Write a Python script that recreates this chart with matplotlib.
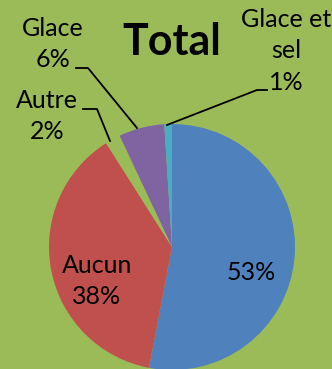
import matplotlib.pyplot as plt

# share of each treatment, clockwise from 12 o'clock
categories = ["", "Aucun", "Autre", "Glace", "Glace et\nsel"]
shares = [53, 38, 2, 6, 1]
colors = ["#4F81BD", "#C0504D", "#9BBB59", "#8064A2", "#4BACC6"]

BG = "#9BBB59"
W, H = 332, 369

plt.rcParams["font.family"] = ["Lato", "DejaVu Sans"]

fig = plt.figure(figsize=(W / 100, H / 100), dpi=100, facecolor=BG)
ax = fig.add_axes([0, 0, 1, 1])

cx, cy, r = 172, H - 247, 123
ax.pie(shares, colors=colors, startangle=90, counterclock=False,
       center=(cx, cy), radius=r, frame=True,
       wedgeprops={"linewidth": 0})
ax.set_xlim(0, W)
ax.set_ylim(0, H)
ax.set_aspect("equal")
ax.axis("off")

fs = 18
ls = 1.45
ax.text(251, H - 272, f"{shares[0]}%", ha="center", va="center", fontsize=fs)
ax.text(97, H - 281, f"{categories[1]}\n{shares[1]}%", ha="center", va="center",
        fontsize=fs, linespacing=ls)
ax.text(47, H - 116, f"{categories[2]}\n{shares[2]}%", ha="center", va="center",
        fontsize=fs, linespacing=ls)
ax.text(53, H - 44, f"{categories[3]}\n{shares[3]}%", ha="center", va="center",
        fontsize=fs, linespacing=ls)
ax.text(286, H - 51, f"{categories[4]}\n{shares[4]}%", ha="center", va="center",
        fontsize=fs, linespacing=ls)

# leader lines for the small slices
lk = {"color": "black", "linewidth": 1.3}
ax.plot([76, 88, 137], [H - 68, H - 68, H - 128], **lk)
ax.plot([83, 97, 110], [H - 109, H - 109, H - 141], **lk)
ax.plot([167, 257, 267], [H - 125, H - 90, H - 90], **lk)

ax.text(172, H - 42, "Total", ha="center", va="center", fontsize=31,
        fontweight="bold")

fig.savefig("out.png", dpi=100, facecolor=BG)
